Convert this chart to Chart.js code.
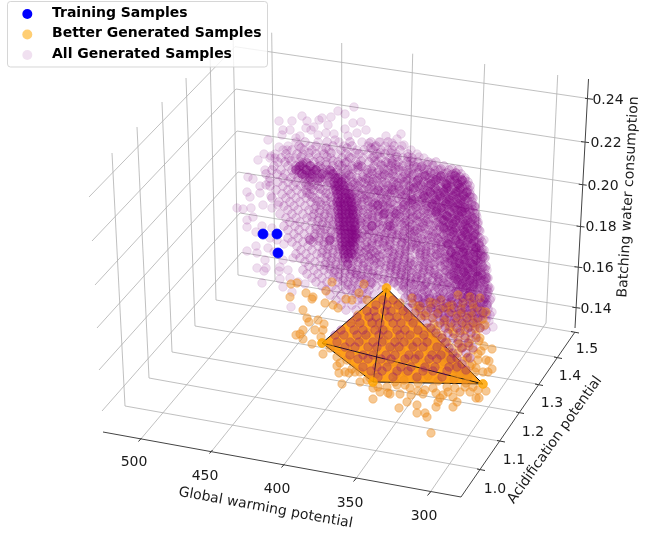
<!DOCTYPE html>
<html>
<head>
<meta charset="utf-8">
<style>body{margin:0;background:#fff}canvas{display:block;filter:blur(0.35px)}</style>
<script src="https://cdn.jsdelivr.net/npm/chart.js@4"></script>
</head>
<body>
<canvas id="c" width="656" height="533"></canvas>
<script>
const xTicks = ['500', '450', '400', '350', '300'];
const yTicks = ['1.0', '1.1', '1.2', '1.3', '1.4', '1.5'];
const zTicks = ['0.24', '0.22', '0.20', '0.18', '0.16', '0.14'];
const xTickAt = [[134, 462], [205, 476], [277, 489], [350, 503], [424, 516]];
const yTickAt = [[495, 489], [514, 460], [533, 432], [552, 403], [570, 376], [587, 349]];
const zTickAt = [[608, 100], [606, 143], [603, 186], [601, 227], [598, 268], [596, 309]];

// grid polylines: tick on the axis, corner, end on the wall
const xGrid = [
  [140, 440, 275, 280, 271.7, 32.7], [211, 452, 341, 290, 341.7, 43], [283, 466, 407, 301, 412.7, 53.7],
  [355, 480, 475, 312, 484.7, 64], [429, 494, 546, 323, 557.7, 75]];
const yGrid = [
  [479, 469, 125, 406, 112, 153], [499, 441, 149, 378, 137, 127], [518, 412, 172, 352, 162, 102],
  [537, 384, 195, 326, 186, 78], [556, 357, 216, 300, 210, 54], [573, 332, 238, 275, 233, 32]];
const zGrid = [
  [89, 197, 235, 46.7, 586.7, 98.3], [92, 241, 236, 89, 583, 142], [95, 285, 237, 131, 580, 184],
  [97, 328, 238, 172, 578, 226], [99, 370, 240, 213, 576, 267], [102, 411, 241.5, 252.5, 574, 307]];
const axisLines = [[103, 432, 461, 497], [461, 497, 575, 332], [575, 328, 588.5, 79]];
const tickMarks = [[138.5, 441.5, 141.5, 438], [209.5, 453.5, 212.5, 450], [281.5, 467.5, 284.5, 464], [353.5, 481.5, 356.5, 478], [427.5, 495.5, 430.5, 492],
  [477, 469, 485, 470.5], [497, 440.5, 505, 442], [516, 412, 524, 413.5], [535, 384, 543, 385.5], [554, 357, 562, 358.5], [571, 331.5, 579, 333],
  [585, 98.3, 593, 99.3], [581, 141.6, 589, 142.6], [578.7, 184.2, 586.7, 185.2], [576.5, 226, 584.5, 227], [574.4, 266.7, 582.4, 267.7], [572.3, 307.2, 580.3, 308.2]];

const trainX = [263, 277, 278];
const trainY = [234, 234, 253];

const hullX = [386.5, 322, 373, 483, 386.5];
const hullY = [288, 343, 382, 384, 288];
const hullEdges = [[386.5, 288, 483, 384], [386.5, 288, 322, 343], [386.5, 288, 373, 382],
  [322, 343, 483, 384], [322, 343, 373, 382], [373, 382, 483, 384]];

// outer sparse points
const purpleRim = [279,121,302,116,307,121,319,120,322,118,331,117,328,125,338,111,345,114,354,107,353,123,361,122,
  283,130,282,135,264,154,271,156,279,147,287,150,275,158,265,170,248,177,253,179,260,186,266,185,269,182,247,192,
  250,197,260,193,237,208,243,209,251,208,263,205,272,208,278,205,247,220,247,227,253,217,272,228,256,246,247,251,
  257,253,268,248,265,260,257,268,264,271,266,268,280,267,279,271,288,270,283,260,262,283,283,287,292,292,291,307,
  290,130,311,130,306,128,314,127,334,134,345,129,348,136,357,133,366,130,335,140,300,136,296,138,386,136,401,134,
  397,139,392,143,380,142,375,147,388,150,404,145,395,157,369,143,419,157,432,163,413,162,430,172,440,170,456,173,
  465,180,470,190,472,197,475,206,477,217,485,257,487,270,489,289,487,305,484,280,483,253,493,327,489,321,487,315,
  488,303,490,288,487,278,483,257,475,207,258,160,268,140,292,121,326,133,318,135,277,240,284,244,270,238,293,258,
  271,196,262,226,256,232,274,252,290,278,298,282,305,284,280,279,492,312,491,298,484,240,480,231,478,224,
  296,142,318,142,339,142,362,142,379,142,288,146,310,146,344,146,368,146,385,146,402,146,283,150,304,150,329,150,
  357,150,381,150,411,150,275,154,303,154,337,154,368,154,396,154,417,154,270,158,295,158,331,158,363,158,390,158,
  424,158];

// main body of the cloud, each row is y followed by x values
const purpleBody = [
  [142,305,327,350,371,388],
  [146,299,316,333,352,376,394],
  [150,292,312,322,341,364,373,392,400],
  [154,286,297,316,324,346,359,377,385,408],
  [158,281,289,309,318,342,351,372,381,403,412],
  [162,278,285,300,306,314,326,338,347,356,369,378,386,398,407,418,428,436],
  [166,274,288,296,303,311,320,333,342,352,361,374,383,391,403,414,422,433,444],
  [170,272,281,292,299,307,316,327,337,348,358,367,379,388,399,408,419,428,438,449,458],
  [174,266,277,285,294,302,310,318,331,340,352,363,372,384,393,405,414,424,434,444,453,461],
  [178,270,283,291,298,306,315,325,336,346,357,368,377,389,398,410,419,429,440,449,457,465],
  [182,278,288,296,305,312,322,330,341,352,361,373,382,394,404,413,424,434,444,452,461,468],
  [186,270,283,293,301,309,318,327,337,348,358,367,379,388,399,409,418,429,438,448,456,465,470],
  [190,276,288,297,306,314,323,333,345,355,364,374,385,394,404,415,424,433,443,451,460,468],
  [194,282,291,302,310,320,329,338,350,361,370,381,390,400,411,420,428,438,447,455,463,470],
  [198,272,286,296,306,315,325,335,345,357,367,376,386,397,406,416,425,434,442,451,459,467,473],
  [202,279,290,300,311,320,331,340,352,362,372,383,392,403,412,422,430,439,447,456,464,472],
  [206,284,294,305,316,326,336,347,358,368,377,388,398,408,418,427,436,444,452,460,468,474],
  [210,288,298,309,320,330,341,353,363,373,384,393,404,413,423,432,441,449,457,465,473],
  [214,280,292,303,314,325,335,345,357,368,379,389,399,410,419,428,437,446,454,462,470,476],
  [218,286,296,307,319,329,339,351,362,372,384,395,404,415,424,433,442,450,459,467,475],
  [222,290,300,312,323,333,344,355,367,378,389,400,409,420,429,438,447,455,463,471,478],
  [226,284,295,305,316,327,337,349,360,372,383,393,405,415,424,434,443,451,459,468,476],
  [230,288,299,310,320,331,341,353,365,376,388,398,410,420,429,438,447,455,464,472,479],
  [234,294,304,315,325,335,346,358,369,381,392,403,414,424,433,442,451,460,468,476],
  [238,288,298,309,319,330,340,350,362,374,385,397,408,418,428,437,446,455,463,472,480],
  [242,292,303,313,324,334,345,355,367,379,390,402,412,423,432,441,450,459,467,476,482],
  [246,297,308,318,329,339,350,361,372,384,395,406,417,426,436,446,455,463,472,480],
  [250,301,312,323,333,344,354,366,377,389,400,410,421,431,441,450,459,468,476,484],
  [254,296,306,317,327,338,348,359,371,383,394,405,415,426,436,445,455,464,473,481],
  [258,300,310,321,332,342,353,364,376,387,398,410,420,430,440,450,460,469,477,485],
  [262,305,315,326,336,347,358,369,381,392,404,415,425,435,445,455,464,473,481],
  [266,309,320,330,341,352,363,374,386,397,408,419,429,440,450,459,468,477,486],
  [270,303,314,324,335,345,357,368,379,390,402,413,424,435,445,454,463,472,481],
  [274,307,318,329,339,350,361,372,384,395,406,417,428,439,449,458,467,476,485],
  [278,312,322,333,344,355,366,377,389,400,411,422,433,444,454,463,472,481,488],
  [282,316,327,338,348,360,371,382,394,405,416,427,438,448,457,466,476,485],
  [286,322,332,342,352,364,376,398,409,420,431,442,452,461,470,479,488],
  [290,326,336,346,357,369,382,402,413,424,435,446,456,465,474,483],
  [295,330,341,352,362,374,408,418,429,440,450,460,469,478,487],
  [300,336,346,358,368,415,425,436,447,456,465,474,483,490],
  [305,341,352,362,420,431,442,452,461,470,479,487],
  [310,346,356,428,438,448,458,467,476,485],
  [315,434,445,455,464,473,482,490],
  [320,440,450,460,469,478,486],
  [326,445,456,466,475,484]];

// second pass over the body, uneven gaps so no lattice shows
const purpleMid = [
  [148,301,326,347,371],
  [153,309,331,355,380,391],
  [157,301,327,349,374,397,408],
  [161,291,320,333,361,375,392,411],
  [165,302,326,339,358,381,396,409,427],
  [169,296,304,313,322,344,353,371,384,395,412,424,441,452],
  [173,299,307,324,336,346,368,377,389,409,418,431,447,456],
  [177,303,312,329,342,351,363,382,394,403,422,437,444,460],
  [181,309,318,327,346,358,369,377,392,407,417,431,441,455,463],
  [185,306,314,331,343,353,372,383,396,404,421,426,447,459,467],
  [189,311,320,336,349,362,369,388,399,412,420,436,446,454,463],
  [193,307,326,344,355,375,384,395,407,423,431,441,458,466],
  [197,312,331,352,362,371,391,402,411,428,437,449,462,470],
  [201,317,326,348,357,368,379,387,408,419,427,443,452,468],
  [205,321,333,344,362,373,383,394,413,421,433,448,456,465,472],
  [209,314,327,351,358,368,380,390,401,417,426,437,444,461,469],
  [213,319,331,349,363,375,385,394,407,424,432,442,458,466,474],
  [217,312,324,336,356,367,378,391,400,413,420,438,447,455,472],
  [221,318,329,348,360,373,383,396,406,417,426,443,452,466,476],
  [225,322,333,356,365,379,388,402,412,430,439,449,461,473],
  [229,316,325,338,351,369,381,394,407,417,425,444,452,467,477],
  [233,321,331,349,362,374,386,399,410,419,436,447,457,464,474],
  [237,314,326,336,355,367,379,392,403,414,432,441,451,468,478],
  [241,319,329,352,360,372,385,396,408,418,427,446,455,463,474],
  [245,324,335,347,365,377,390,401,413,431,441,449,467,479],
  [249,328,339,358,369,381,395,405,416,426,436,455,464,473,482],
  [253,322,333,351,364,375,388,400,420,431,440,451,460,470,478],
  [257,327,338,356,369,380,393,405,425,435,446,455,465,474,483],
  [261,331,343,353,374,386,398,411,421,440,450,460,469,478],
  [265,325,336,347,358,380,391,403,413,424,434,445,455,464,473,482],
  [269,330,340,351,363,385,396,407,418,429,450,459,468,477,485],
  [273,334,345,356,368,390,401,412,423,434,445,454,463,472,481],
  [277,338,350,361,374,395,406,417,428,438,449,459,468,477,486],
  [281,343,354,366,388,399,410,421,432,443,453,462,471,481],
  [285,348,358,370,403,414,425,436,447,456,466,475,484],
  [289,351,363,406,418,428,439,451,460,470,478,487],
  [294,356,367,411,422,433,444,454,464,473,482],
  [299,362,418,429,439,451,460,469,478,486],
  [304,424,434,446,456,465,474,483],
  [309,431,441,452,462,471,480,488],
  [314,438,449,458,468,477,486],
  [320,444,454,463,472,481]];

// third pass, clumps and streaks rather than even rows
const purpleClumps = [
  [163,303,307,345,388,392],[167,299,318,358,362,399,417,421],[171,310,314,331,372,393,403,435],
  [175,305,327,349,380,385,412,427,451],[179,318,344,366,373,401,407,433,438,454],
  [183,355,364,386,398,416,428,447,457],[187,350,371,392,410,423,441,451,462],
  [191,358,379,401,408,427,438,449,458],[195,352,366,387,405,418,433,445,456],
  [199,354,364,381,399,414,422,439,447,457,465],[203,356,375,390,410,426,435,450,460],
  [207,354,371,385,403,416,431,442,455,463],[211,359,378,397,411,428,437,452,461,470],
  [215,353,372,383,405,417,436,445,458,467],[219,358,368,390,411,428,441,453,463,473],
  [223,361,376,394,404,423,436,449,460,470],[227,355,367,387,410,421,440,447,463,474],
  [231,357,372,392,404,415,433,450,460,470],[235,354,365,384,397,411,428,444,454,466,475],
  [239,358,378,390,405,422,438,449,461,471],[243,351,372,383,402,416,436,447,458,470,479],
  [247,355,367,387,411,421,441,453,461,476],[251,360,373,392,406,426,445,456,466,480],
  [255,355,368,379,399,420,437,449,459,469,477],[259,361,372,391,404,427,444,454,465,481],
  [263,364,377,396,410,431,448,459,470,478],[267,368,391,402,423,441,454,463,473,483],
  [271,352,373,396,409,430,447,458,468,478],[275,357,378,401,421,436,451,462,472,482],
  [279,364,384,405,416,439,456,467,477,486],[283,372,394,411,426,444,460,470,480],
  [287,404,422,437,450,463,474,484],[292,414,427,443,456,468,478,488],
  [297,412,424,437,449,462,472,482],[302,426,440,451,463,473,484],[307,433,446,458,468,478],
  [312,440,452,463,474,484],[318,447,458,470,480],[324,452,464,477],[330,460,472,486]];

// dark ridge, top right band and right edge
const purpleDense = [
  [166,300,310],[170,296,306,316,330],[174,302,312,322,333],[178,310,320,335,338],[182,334,338,342],
  [186,335,339,344],[190,336,340,345],[194,337,341,346,349],[198,338,342,346,350],[202,337,340,344,348,351],
  [206,338,341,345,349,352],[210,338,342,346,350,353],[214,339,342,346,349,353],[218,339,343,347,351,354],
  [222,339,343,346,350,354],[226,340,344,347,351,355],[230,340,344,348,352,355],[234,341,345,349,352,356],
  [238,341,345,349,353,356],[242,342,346,350,353],[246,342,346,350,354],[250,343,347,351],[254,344,348,352],
  [258,345,349],[264,348],
  [176,425,441,455],[180,418,436,450,462],[184,431,446,458],[188,414,435,447,460],[192,430,444,456,467],
  [196,424,440,453,464],[200,412,436,449,461],[204,432,446,458],[208,441,454,465],[212,436,450,462],[216,447,459],
  [220,444,456,468],[224,453,465],[228,444,456,468],[232,453,465],[236,462,473],[240,456,468],[244,448,460,472],
  [248,464,476],[252,451,463,475],[256,456,468],[260,452,464,476],[264,460,472],[268,456,468],[272,464,476],
  [276,454,466,478],[280,458,470],[284,462,474],[288,466],[292,458,470],[296,468],
  [226,390,372],[214,396,384],[240,310,330],[190,392,378],[205,378,404]];

// purple seen over the orange hull and the orange cluster right of it
const purpleOverHull = [
  [300,383,393],[305,376,387,398],[311,367,374,385,391,403],[317,357,369,376,389,397,408],
  [323,351,360,372,380,393,401,413],[330,341,354,363,375,383,397,405,418],[335,335,344,357,366,379,388,400,410,424],
  [342,337,350,359,373,382,395,404,417,427],[347,345,355,368,377,390,399,413,423,437],[355,350,363,373,386,395,409,419,432,441],
  [359,358,368,381,391,405,415,429,437,451],[367,363,377,387,401,411,425,435,449,457],[371,371,382,397,408,423,433,447],[377,378,393,417,442],
  [298,405,418,430,441,452,463,474,485],[303,412,423,436,447,458,470,481],[308,408,420,431,443,454,465,477],
  [313,415,426,438,449,461,472,483],[318,421,433,444,456,467,478],[323,427,440,451,462,473],[328,431,445,457,468,480],
  [333,436,448,460,471],[338,442,453,465,476],[343,445,458,468],[348,449,462,473],[353,453,466],[358,457,470],[364,462],[370,466]];

const orangeX = [291,297,290,306,313,312,325,333,303,307,309,318,324,315,303,296,300,303,321,323,312,323,337,337,340,339,349,355,367,373,378,387,373,388,
  332,326,346,359,367,338,352,364,
  492,489,492,483,486,476,479,453,443,440,438,457,453,436,417,407,399,417,425,427,431,
  397,405,410,418,425,433,447,455,465,473,380,390,400,411,423,436,448,460,470,478,
  400,412,420,433,441,452,463,474,486,405,416,428,440,451,462,472,483,410,421,432,444,455,466,477,
  414,427,438,449,460,470,480,418,431,442,454,465,476,423,435,447,458,469,479,
  428,441,452,463,473,484,436,447,458,468,478,440,452,463,472,486,444,455,466,476,488,
  428,416,404,395,418,438,454,466,342,358,372,385,398,412,430,347,363,378,392,408,426,
  352,368,384,401,418,360,376,394,410,370,388,406,424,376,396,416,360,345,330,
  408,419,430,446,458,470,480,413,425,437,449,461,473,418,434,445,457,469,481,
  424,436,450,462,474,485,430,442,453,465,475,434,446,459,471,480,438,449,461,469,481,
  442,455,467,478,447,458,470,452,464,475,456,468,460];
const orangeY = [284,283,297,293,297,299,303,305,310,318,322,320,324,330,330,335,334,339,337,330,344,354,357,366,363,373,373,372,380,388,387,387,399,393,
  282,291,299,293,300,308,300,284,
  349,361,369,372,391,398,398,397,395,398,402,402,407,407,405,402,408,413,413,417,433,
  385,385,388,391,390,388,387,388,387,387,392,394,394,395,394,393,392,392,392,390,
  303,298,306,303,300,305,303,308,312,313,311,310,309,312,314,316,319,320,316,318,322,323,324,322,322,
  328,326,329,331,327,328,331,333,335,334,336,335,338,340,342,340,343,341,343,
  346,348,347,350,346,349,355,353,357,354,356,362,361,364,360,362,369,371,368,372,376,
  378,380,382,383,381,379,383,384,315,322,330,339,345,352,360,340,325,348,358,363,369,
  333,340,350,358,372,350,362,344,378,362,372,368,374,374,354,382,372,348,338,
  309,302,308,295,297,298,304,316,314,306,309,304,306,324,320,316,316,311,315,
  330,327,322,323,325,328,338,332,330,329,333,342,344,339,338,336,352,348,346,351,353,
  356,358,360,358,364,366,362,370,372,368,376,374,380];

const hullCornersX = [386.5, 322, 373, 483];
const hullCornersY = [288, 343, 382, 384];

const pts = (xs, ys) => xs.map((x, i) => ({ x, y: ys[i] }));
const pairs = list => { const out = []; for (let i = 0; i < list.length; i += 2) out.push({ x: list[i], y: list[i + 1] }); return out; };
const rows = list => list.flatMap(r => r.slice(1).map(x => ({ x, y: r[0] })));
// polylines joined with gaps so one dataset can hold the whole group
const lines = list => list.flatMap(l => { const p = pairs(l); p.push({ x: NaN, y: NaN }); return p; });

const lineSet = (data, color, width, order) => ({ type: 'scatter', data, showLine: true, spanGaps: false, borderColor: color, borderWidth: width, pointRadius: 0, order });
const dotSet = (data, fill, r, order) => ({ type: 'scatter', data, backgroundColor: fill, borderColor: fill, borderWidth: 0.8, pointRadius: r, order });

const font = 'DejaVu Sans';

const textPlugin = {
  id: 'textPlugin',
  afterDatasetsDraw(chart) {
    const { ctx, scales: { x, y } } = chart;
    const put = (str, px, py, rot) => {
      ctx.save();
      ctx.translate(x.getPixelForValue(px), y.getPixelForValue(py));
      ctx.rotate(rot * Math.PI / 180);
      ctx.textAlign = 'center';
      ctx.textBaseline = 'middle';
      ctx.fillText(str, 0, 0);
      ctx.restore();
    };
    ctx.save();
    ctx.fillStyle = '#1a1a1a';
    ctx.font = '14px "' + font + '"';
    xTicks.forEach((t, i) => put(t, xTickAt[i][0], xTickAt[i][1], 0));
    yTicks.forEach((t, i) => put(t, yTickAt[i][0], yTickAt[i][1], 0));
    zTicks.forEach((t, i) => put(t, zTickAt[i][0], zTickAt[i][1], 0));
    put('Global warming potential', 265.5, 508, 10.4);
    put('Acidification potential', 555, 440, -54.6);
    put('Batching water consumption', 628.5, 197, -86.7);

    // legend box sits over the grid lines like matplotlib's
    ctx.beginPath();
    ctx.roundRect(7.5, 1.5, 260, 65.5, 3);
    ctx.fillStyle = 'rgba(255,255,255,0.8)';
    ctx.fill();
    ctx.strokeStyle = 'rgba(204,204,204,0.8)';
    ctx.lineWidth = 1;
    ctx.stroke();
    const legendItems = [['Training Samples', 'rgb(0,0,255)', 13], ['Better Generated Samples', 'rgba(255,165,0,0.55)', 33.5], ['All Generated Samples', 'rgba(128,0,128,0.12)', 54]];
    legendItems.forEach(([label, color, ly]) => {
      ctx.beginPath();
      ctx.arc(27.3, ly + 1, 5, 0, Math.PI * 2);
      ctx.fillStyle = color;
      ctx.fill();
      ctx.fillStyle = '#000';
      ctx.font = 'bold 14px "' + font + '"';
      ctx.textAlign = 'left';
      ctx.textBaseline = 'middle';
      ctx.fillText(label, 52, ly);
    });
    ctx.restore();
  }
};

new Chart(document.getElementById('c'), {
  type: 'scatter',
  data: {
    datasets: [
      lineSet(lines(xGrid), 'rgba(176,176,176,0.8)', 1, 20),
      lineSet(lines(yGrid), 'rgba(176,176,176,0.8)', 1, 20),
      lineSet(lines(zGrid), 'rgba(176,176,176,0.8)', 1, 20),
      lineSet(lines(axisLines), '#444', 1, 19),
      lineSet(lines(tickMarks), '#333', 1, 19),
      dotSet(pairs(purpleRim), 'rgba(128,0,128,0.13)', 4.3, 17),
      dotSet(rows(purpleBody), 'rgba(128,0,128,0.17)', 4.4, 16),
      dotSet(rows(purpleMid), 'rgba(128,0,128,0.18)', 4.4, 15),
      dotSet(rows(purpleClumps), 'rgba(128,0,128,0.2)', 4.4, 14),
      dotSet(rows(purpleDense), 'rgba(128,0,128,0.34)', 4.4, 13),
      { type: 'line', data: pts(hullX, hullY), fill: 'shape', backgroundColor: 'rgba(255,150,0,0.9)', borderWidth: 0, pointRadius: 0, tension: 0, order: 12 },
      lineSet(lines(hullEdges), '#111', 1, 11),
      dotSet(pts(orangeX, orangeY), 'rgba(236,140,30,0.48)', 4.2, 10),
      dotSet(rows(purpleOverHull), 'rgba(128,0,128,0.26)', 4.3, 9),
      dotSet(pts(hullCornersX, hullCornersY), 'rgba(255,165,0,0.85)', 4.4, 8),
      dotSet(pts(trainX, trainY), 'rgb(0,0,255)', 5, 1)
    ]
  },
  plugins: [textPlugin],
  options: {
    responsive: false,
    animation: false,
    devicePixelRatio: 1,
    layout: { padding: 0, autoPadding: false },
    plugins: { legend: { display: false }, tooltip: { enabled: false } },
    scales: {
      x: { type: 'linear', min: 0, max: 656, display: false },
      y: { type: 'linear', min: 0, max: 533, reverse: true, display: false }
    }
  }
});
</script>
</body>
</html>
